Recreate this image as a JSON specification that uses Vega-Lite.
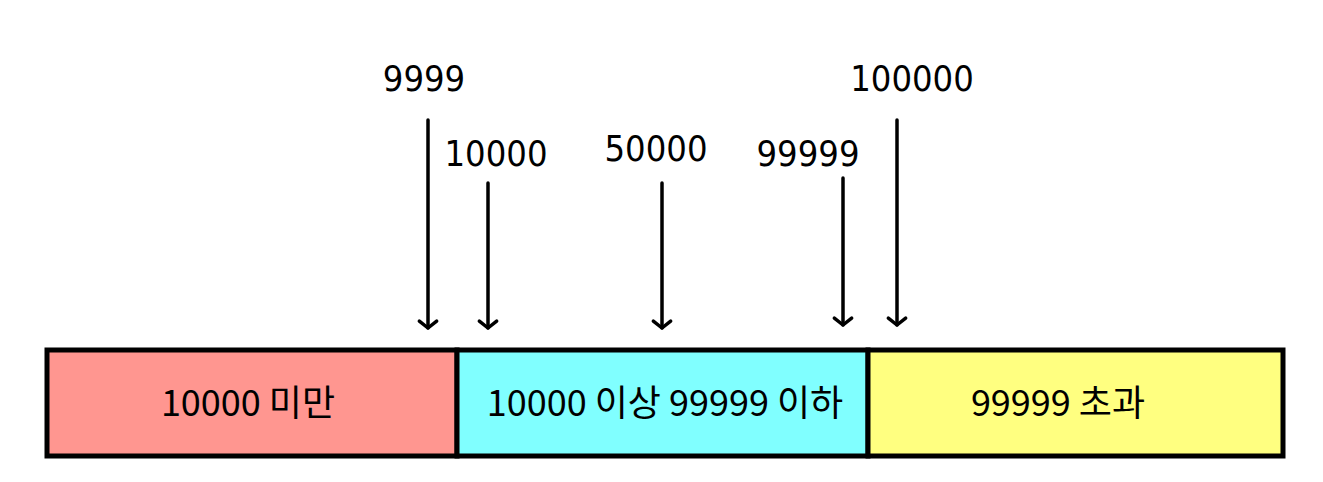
{
  "$schema": "https://vega.github.io/schema/vega-lite/v6.json",
  "width": 1323,
  "height": 482,
  "autosize": {"type": "fit", "contains": "padding"},
  "padding": 0,
  "background": "white",
  "config": {"view": {"stroke": null}},
  "datasets": {
    "ranges": [
      {"label": "10000 미만", "start": 47, "end": 457, "mid": 248, "fill": "#FF9690"},
      {"label": "10000 이상  99999 이하", "start": 457, "end": 868, "mid": 665, "fill": "#80FFFF"},
      {"label": "99999 초과", "start": 868, "end": 1283, "mid": 1058, "fill": "#FFFF80"}
    ],
    "marks": [
      {"value": "9999", "at": 428, "top": 120, "tip": 328, "lx": 424, "ly": 80},
      {"value": "10000", "at": 488, "top": 183, "tip": 328, "lx": 496, "ly": 155},
      {"value": "50000", "at": 662, "top": 183, "tip": 328, "lx": 656, "ly": 150},
      {"value": "99999", "at": 843, "top": 178, "tip": 325, "lx": 808, "ly": 155},
      {"value": "100000", "at": 897, "top": 120, "tip": 325, "lx": 912, "ly": 80}
    ]
  },
  "layer": [
    {
      "data": {"name": "ranges"},
      "mark": {"type": "rect", "stroke": "black", "strokeWidth": 5},
      "encoding": {
        "x": {"field": "start", "type": "quantitative", "scale": {"domain": [0, 1323], "nice": false}, "axis": null},
        "x2": {"field": "end"},
        "y": {"datum": 350, "type": "quantitative", "scale": {"domain": [0, 482], "nice": false, "reverse": true}, "axis": null},
        "y2": {"datum": 456},
        "fill": {"field": "fill", "type": "nominal", "scale": null}
      }
    },
    {
      "data": {"name": "ranges"},
      "mark": {"type": "text", "fontSize": 36, "font": "Noto Sans CJK KR", "color": "black", "baseline": "middle"},
      "encoding": {
        "x": {"field": "mid", "type": "quantitative"},
        "y": {"datum": 405, "type": "quantitative"},
        "text": {"field": "label"}
      }
    },
    {
      "data": {"name": "marks"},
      "mark": {"type": "rule", "strokeWidth": 3.5, "color": "black", "strokeCap": "round"},
      "encoding": {
        "x": {"field": "at", "type": "quantitative"},
        "y": {"field": "top", "type": "quantitative"},
        "y2": {"field": "tip"}
      }
    },
    {
      "data": {"name": "marks"},
      "mark": {"type": "point", "shape": "M-1,-0.8L0,0L1,-0.8", "filled": false, "stroke": "black", "strokeWidth": 3.5, "size": 300, "strokeCap": "round", "strokeJoin": "round", "opacity": 1},
      "encoding": {
        "x": {"field": "at", "type": "quantitative"},
        "y": {"field": "tip", "type": "quantitative"}
      }
    },
    {
      "data": {"name": "marks"},
      "mark": {"type": "text", "fontSize": 36, "font": "DejaVu Sans Condensed, DejaVu Sans, sans-serif", "color": "black", "baseline": "middle"},
      "encoding": {
        "x": {"field": "lx", "type": "quantitative"},
        "y": {"field": "ly", "type": "quantitative"},
        "text": {"field": "value"}
      }
    }
  ]
}
